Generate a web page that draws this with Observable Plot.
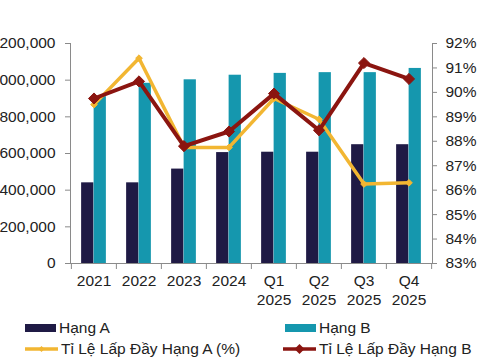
<!DOCTYPE html>
<html>
<head>
<meta charset="utf-8">
<script src="https://cdn.jsdelivr.net/npm/d3@7"></script>
<script src="https://cdn.jsdelivr.net/npm/@observablehq/plot@0.6"></script>
<style>
  html, body { margin: 0; padding: 0; background: #fff; width: 480px; height: 360px; overflow: hidden; }
  #wrap { position: relative; width: 480px; height: 360px; }
  #chart { position: absolute; left: -10px; top: 0; }
  .lg { position: absolute; font-family: "Liberation Sans", Arial, sans-serif; font-size: 15.5px; color: #222; display: flex; align-items: center; white-space: nowrap; }
  .lg svg { margin-right: 3px; }
</style>
</head>
<body>
<div id="wrap">
  <div id="chart"></div>
</div>
<script>
const categories = ["2021", "2022", "2023", "2024", "Q1\n2025", "Q2\n2025", "Q3\n2025", "Q4\n2025"];
const hangA = [440000, 440000, 515000, 605000, 607000, 607000, 648000, 648000];
const hangB = [910000, 983000, 1002000, 1027000, 1037000, 1041000, 1041000, 1064000];
const occA = [89.5, 91.4, 87.75, 87.75, 89.75, 88.9, 86.25, 86.3];
const occB = [89.75, 90.45, 87.8, 88.4, 89.95, 88.45, 91.2, 90.55];
const leftTicks = [0, 200000, 400000, 600000, 800000, 1000000, 1200000];
const rightTicks = [83, 84, 85, 86, 87, 88, 89, 90, 91, 92];
const seriesNames = ["Hạng A", "Hạng B", "Tỉ Lệ Lấp Đầy Hạng A (%)", "Tỉ Lệ Lấp Đầy Hạng B"];
const colors = ["#1f1a45", "#1597ae", "#f2b632", "#8b1510"];

const pMin = 83, pMax = 92, yMax = 1200000;
const toLeft = p => (p - pMin) / (pMax - pMin) * yMax;
const fromLeft = v => v / yMax * (pMax - pMin) + pMin;

const rowsA = categories.map((c, i) => ({cat: c, v: hangA[i]}));
const rowsB = categories.map((c, i) => ({cat: c, v: hangB[i]}));
const lineA = categories.map((c, i) => ({cat: c, v: toLeft(occA[i])}));
const lineB = categories.map((c, i) => ({cat: c, v: toLeft(occB[i])}));

const width = 490, marginLeft = 80, marginRight = 48;
const bw = (width - marginLeft - marginRight) / categories.length;
const barW = 12.5;
const axisColor = "#8a8a8a";

const chart = Plot.plot({
  width, height: 315,
  marginLeft, marginRight, marginTop: 43, marginBottom: 52,
  style: {fontFamily: "'Liberation Sans', Arial, sans-serif", fontSize: "15.5px", color: "#222", background: "transparent", maxWidth: "none"},
  x: {domain: categories, padding: 0, label: null},
  y: {domain: [0, yMax], label: null},
  marks: [
    Plot.barY(rowsA, {x: "cat", y: "v", fill: colors[0], insetLeft: bw / 2 - barW, insetRight: bw / 2}),
    Plot.barY(rowsB, {x: "cat", y: "v", fill: colors[1], insetLeft: bw / 2, insetRight: bw / 2 - barW}),
    Plot.frame({anchor: "left", stroke: axisColor}),
    Plot.frame({anchor: "right", stroke: axisColor}),
    Plot.frame({anchor: "bottom", stroke: axisColor}),
    Plot.axisY(leftTicks, {anchor: "left", tickFormat: d3.format(","), tickSize: 5, tickPadding: 10, stroke: axisColor, label: null}),
    Plot.axisY(rightTicks.map(toLeft), {anchor: "right", tickFormat: v => Math.round(fromLeft(v)) + "%", tickSize: 4, tickPadding: 9, stroke: axisColor, label: null}),
    Plot.axisX({tickSize: 0, tickPadding: 10, lineHeight: 1.17, label: null}),
    Plot.axisX({tickSize: 6, tickFormat: () => "", dx: -bw / 2, stroke: axisColor, label: null}),
    Plot.axisX([categories[categories.length - 1]], {tickSize: 6, tickFormat: () => "", dx: bw / 2, stroke: axisColor, label: null}),
    Plot.line(lineA, {x: "cat", y: "v", stroke: colors[2], strokeWidth: 3.5}),
    Plot.dot(lineA, {x: "cat", y: "v", symbol: "diamond2", r: 3, fill: colors[2], stroke: colors[2], strokeWidth: 1}),
    Plot.line(lineB, {x: "cat", y: "v", stroke: colors[3], strokeWidth: 4}),
    Plot.dot(lineB, {x: "cat", y: "v", symbol: "diamond2", r: 5, fill: colors[3], stroke: colors[3], strokeWidth: 1})
  ]
});
document.getElementById("chart").appendChild(chart);

// Legend
const wrap = document.getElementById("wrap");
const legendPos = [
  {x: 25, y: 328, kind: "bar"},
  {x: 285, y: 328, kind: "bar"},
  {x: 25, y: 349, kind: "line", r: 3},
  {x: 283, y: 349, kind: "line", r: 5}
];
seriesNames.forEach((name, i) => {
  const p = legendPos[i];
  const div = document.createElement("div");
  div.className = "lg";
  div.style.left = p.x + "px";
  div.style.top = (p.y - 10) + "px";
  div.style.height = "20px";
  let sw;
  if (p.kind === "bar") {
    sw = `<svg width="31" height="10"><rect x="0" y="1" width="31" height="8" fill="${colors[i]}"/></svg>`;
  } else {
    const r = p.r;
    sw = `<svg width="33" height="14"><line x1="0" y1="7" x2="33" y2="7" stroke="${colors[i]}" stroke-width="3.5"/><path d="M16.5 ${7 - r} L${16.5 + r} 7 L16.5 ${7 + r} L${16.5 - r} 7Z" fill="${colors[i]}"/></svg>`;
  }
  div.innerHTML = sw + `<span>${name}</span>`;
  wrap.appendChild(div);
});
</script>
</body>
</html>
